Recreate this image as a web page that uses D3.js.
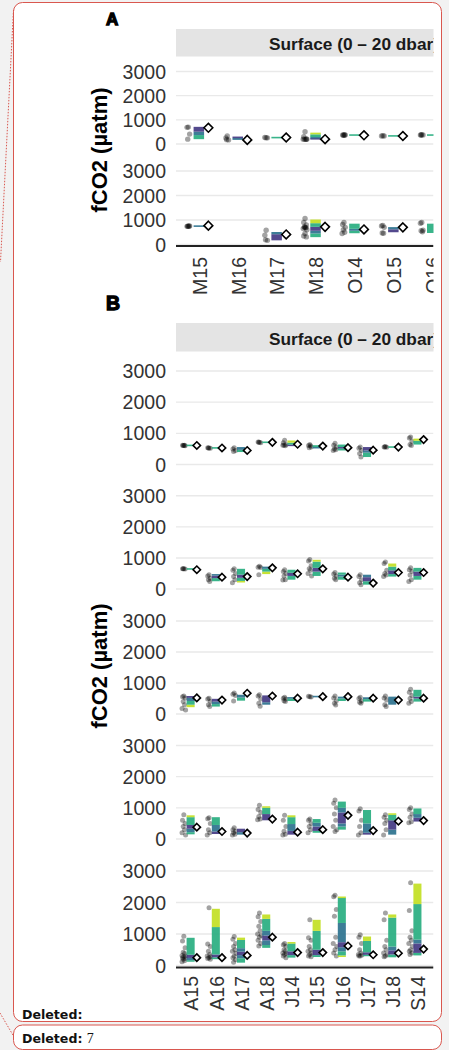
<!DOCTYPE html>
<html><head><meta charset="utf-8">
<script src="https://cdn.jsdelivr.net/npm/d3@7"></script>
<style>
html,body{margin:0;padding:0;background:#f2f2f2;}
svg{display:block;}
</style></head><body>
<svg id="fig" width="449" height="1050"></svg>
<script>
// ---------- data ----------
const stationsA = ["M15","M16","M17","M18","O14","O15","O16"];
const stationsB = ["A15","A16","A17","A18","J14","J15","J16","J17","J18","S14"];
const yTicks = [0, 1000, 2000, 3000];
const stripLabel = "Surface (0 – 20 dbar)";
const yTitle = "fCO2 (µatm)";

// colour codes used by the stacked range bars
const segColours = {p: "#443a83", t: "#2c728e", g: "#28ae80", l: "#c2df23"};

// bars: [boundaries (bottom → top), colour code per segment]
const a1Points = [
  [700, 690, 410, 200], [330, 250, 170, 180], [260, 270, 255],
  [510, 300, 210, 200, 190, 200, 195], [370, 370, 370, 360, 375], [340, 330, 330], [380, 370, 370, 375]
];
const a1Bars = [
  [[200, 370, 510, 710], "gtp"], [[170, 250, 300], "tp"], [[255, 275], "g"],
  [[190, 240, 290, 400, 470], "ptgl"], [[360, 380], "g"], [[325, 345], "g"], [[360, 380], "g"]
];
const a1Diamonds = [670, 170, 270, 200, 360, 330, null];

const a2Points = [
  [750, 740, 760, 750, 745], [], [580, 380, 170, 190],
  [1060, 900, 800, 720, 700, 650, 600, 450, 350, 310, 700, 680],
  [900, 820, 700, 600, 500, 450], [780, 760, 700, 470, 460], [900, 870, 580, 560, 520]
];
const a2Bars = [
  [[740, 760], "t"], null, [[170, 420, 510], "pt"],
  [[300, 450, 560, 720, 870, 1020], "gtpgl"],
  [[460, 560, 640, 850], "gtg"], [[500, 620, 710], "pt"], [[470, 850], "g"]
];
const a2Diamonds = [770, null, 410, 720, 615, 700, null];

const b1Points = [
  [610, 620, 600, 610, 615], [530, 540, 520, 530], [540, 500, 450, 420], [710, 720, 700, 715],
  [780, 700, 640, 620, 600, 620], [640, 610, 560, 540, 600], [680, 620, 560, 500, 470, 450],
  [560, 520, 450, 350, 240], [580, 560, 550, 560], [880, 850, 750, 640, 610]
];
const b1Bars = [
  [[600, 625], "g"], [[520, 545], "g"], [[400, 470, 560], "gt"], [[700, 725], "g"],
  [[590, 640, 700, 770], "pgl"], [[520, 560, 620], "tg"], [[450, 520, 560, 640], "gpg"],
  [[240, 380, 450, 560], "gtp"], [[545, 575], "g"], [[640, 760, 830], "gl"]
];
const b1Diamonds = [610, 530, 450, 710, 650, 590, 540, 460, 560, 800];

const b2Points = [
  [650, 650, 640, 655], [460, 420, 350, 300, 240], [650, 600, 500, 400, 300, 200], [730, 700, 690, 460],
  [620, 560, 500, 420, 300, 290], [950, 900, 750, 650, 600, 500, 420], [530, 480, 420, 350, 300],
  [460, 400, 300, 200, 140], [870, 820, 600, 500, 450, 400], [680, 620, 560, 450, 300, 240]
];
const b2Bars = [
  [[630, 660], "g"], [[250, 350, 430, 480], "gpt"], [[210, 260, 360, 460, 650], "lgpg"],
  [[480, 560, 650, 720], "lgt"], [[300, 420, 520, 620], "gpg"], [[420, 560, 680, 880, 940], "gpgl"],
  [[300, 400, 460, 530], "gtg"], [[140, 250, 380, 460], "gpt"], [[400, 480, 600, 720, 820], "gpgl"],
  [[300, 420, 560, 680], "gpg"]
];
const b2Diamonds = [620, 380, 400, 680, 490, 650, 380, 190, 530, 530];

const b3Points = [
  [580, 560, 520, 400, 300, 180, 130], [510, 480, 400, 300, 240], [680, 640, 600, 420],
  [620, 580, 480, 350, 250], [540, 510, 480, 430, 400], [560, 570, 550], [580, 520, 430, 350, 290],
  [540, 500, 420, 380, 350], [580, 520, 450, 300, 240], [800, 700, 600, 500, 400, 350]
];
const b3Bars = [
  [[220, 300, 420, 520, 580], "lgtp"], [[240, 320, 400, 490], "gtp"], [[430, 530, 620], "gt"],
  [[300, 380, 600], "tp"], [[420, 500, 540], "gt"], [[550, 575], "t"], [[420, 500, 560], "gt"],
  [[400, 480, 540], "gt"], [[300, 560], "t"], [[400, 500, 560, 780], "gpg"]
];
const b3Diamonds = [520, 450, 670, 580, 510, 560, 560, 510, 450, 510];

const b4Points = [
  [780, 600, 500, 400, 300, 200, 130], [680, 650, 500, 300, 200, 130], [360, 300, 250, 200, 150, 130],
  [1080, 950, 850, 720, 640, 620], [760, 600, 400, 250, 150, 130], [640, 600, 500, 400, 300, 200],
  [1250, 1150, 1000, 800, 600, 400, 300, 240], [970, 900, 600, 400, 200, 130],
  [780, 700, 600, 500, 300, 130], [1000, 950, 800, 700, 550, 520]
];
const b4Bars = [
  [[150, 220, 330, 450, 700, 760], "gtpgl"], [[160, 240, 450, 700], "ptg"], [[140, 220, 330], "tp"],
  [[600, 800, 1000, 1050], "pgl"], [[140, 260, 480, 700, 760], "ptgl"], [[200, 260, 400, 520, 640], "gptg"],
  [[300, 400, 500, 850, 1000, 1200], "gtptg"], [[140, 200, 500, 930], "ptg"],
  [[140, 300, 600, 780, 820], "tpgl"], [[560, 680, 800, 980], "ptg"]
];
const b4Diamonds = [380, 240, 190, 640, 220, 300, 760, 270, 570, 590];

const b5Points = [
  [930, 780, 560, 420, 380, 320, 300, 280, 250, 220, 200, 150, 120],
  [1830, 680, 600, 450, 350, 300, 280, 250, 220, 200],
  [920, 830, 700, 600, 500, 450, 380, 300, 250, 180, 100],
  [1670, 1550, 1400, 1250, 1100, 1000, 950, 900, 800, 700, 620],
  [700, 660, 600, 500, 450, 400, 380, 350, 300, 250],
  [1450, 880, 800, 600, 500, 450, 400, 350, 300, 280],
  [2230, 2180, 1780, 1560, 900, 700, 600, 500, 400, 300],
  [980, 900, 700, 500, 400, 350, 330, 300, 300],
  [1670, 1450, 800, 600, 500, 400, 350, 300, 280],
  [2630, 1750, 1100, 900, 800, 700, 600, 500, 450, 400, 350]
];
const b5Bars = [
  [[120, 170, 240, 340, 880], "gtpg"], [[200, 260, 350, 1220, 1800], "gpgl"],
  [[90, 230, 330, 440, 550, 810, 885], "gtptgl"], [[560, 650, 800, 950, 1100, 1480, 1620], "gtptgl"],
  [[250, 330, 450, 700, 740], "gpgl"], [[270, 330, 500, 1100, 1450], "gpgl"],
  [[270, 320, 450, 580, 740, 1350, 2150, 2180], "lgtptgl"], [[300, 340, 420, 780, 920], "gpgl"],
  [[260, 350, 480, 600, 1520, 1620], "gptgl"], [[320, 400, 700, 820, 1950, 2600], "gptgl"]
];
const b5Diamonds = [250, 250, 320, 900, 410, 410, 620, 340, 390, 520];

// ---------- drawing ----------
const svg = d3.select("#fig");
const FONT = "'Liberation Sans', Arial, sans-serif";
const RED = "#d9574f";

// page frames
svg.append("rect").attr("x", 13.5).attr("y", 2.5).attr("width", 428).attr("height", 1019)
  .attr("rx", 9).attr("fill", "#fff").attr("stroke", RED).attr("stroke-width", 1);
svg.append("rect").attr("x", 13.5).attr("y", 1025).attr("width", 428).attr("height", 24.5)
  .attr("rx", 9).attr("fill", "#fff").attr("stroke", RED).attr("stroke-width", 1);
svg.append("line").attr("x1", 13.5).attr("y1", 10).attr("x2", 0.5).attr("y2", 262)
  .attr("stroke", RED).attr("stroke-width", 1).attr("stroke-dasharray", "1.5,1.5");
svg.append("line").attr("x1", 0).attr("y1", 1013).attr("x2", 13.5).attr("y2", 1036)
  .attr("stroke", RED).attr("stroke-width", 1).attr("stroke-dasharray", "1.5,1.5");

const delFont = "'DejaVu Sans', Verdana, sans-serif";
svg.append("text").attr("x", 22).attr("y", 1019).attr("font-family", delFont)
  .attr("font-weight", "bold").attr("font-size", 12.6).attr("fill", "#111").text("Deleted:");
const t2 = svg.append("text").attr("x", 22).attr("y", 1043).attr("font-family", delFont)
  .attr("font-size", 12.6).attr("fill", "#111");
t2.append("tspan").attr("font-weight", "bold").text("Deleted: ");
t2.append("tspan").attr("font-family", "'Liberation Serif', serif").attr("font-size", 14).text("7");

// chart clipped at the right edge of the frame
svg.append("defs").append("clipPath").attr("id", "cut")
  .append("rect").attr("x", 0).attr("y", 0).attr("width", 433.5).attr("height", 1050);
const chart = svg.append("g").attr("clip-path", "url(#cut)");

const panelLeft = 175.5, panelRight = 433.5;

function drawPanel(cfg) {
  const n = cfg.stations.length;
  const x = d3.scalePoint().domain(cfg.stations)
    .range([panelLeft + 0.6 * cfg.step, panelLeft + (n - 0.4) * cfg.step]);
  const g = chart.append("g");

  // panel tag
  g.append("text").attr("x", 106).attr("y", cfg.tagY).attr("font-family", FONT)
    .attr("font-weight", 900).attr("font-size", cfg.tagSize).attr("fill", "#000")
    .attr("stroke", "#000").attr("stroke-width", 1.3).text(cfg.tag);

  // facet strip
  g.append("rect").attr("x", panelLeft + 0.5).attr("y", cfg.strip[0])
    .attr("width", panelRight - panelLeft).attr("height", cfg.strip[1] - cfg.strip[0]).attr("fill", "#e4e4e4");
  g.append("text").attr("x", 269).attr("y", cfg.strip[2]).attr("font-family", FONT)
    .attr("font-weight", "bold").attr("font-size", 17.3).attr("fill", "#1a1a1a").text(stripLabel);

  // y title
  g.append("text").attr("transform", `translate(107,${cfg.titleY}) rotate(-90)`)
    .attr("text-anchor", "middle").attr("font-family", FONT).attr("font-weight", "bold")
    .attr("font-size", 22).attr("fill", "#000").text(yTitle);

  const barW = cfg.barFrac * cfg.step;
  const ptOff = -0.27 * cfg.step, diaOff = 0.245 * cfg.step;
  const jitter = [0, -1.3, 1.3, -0.6, 0.7, -1.8, 1.8];

  cfg.rows.forEach(row => {
    const y = d3.scaleLinear().domain([0, 3000]).range(row.range);
    const rg = g.append("g");

    // grid + tick labels
    rg.selectAll("line.grid").data(yTicks).join("line")
      .attr("x1", panelLeft + 0.5).attr("x2", panelRight)
      .attr("y1", d => y(d)).attr("y2", d => y(d))
      .attr("stroke", "#e9e9e9").attr("stroke-width", 1.4);
    rg.selectAll("text.tick").data(yTicks).join("text")
      .attr("x", 166).attr("y", d => y(d)).attr("dy", "0.36em").attr("text-anchor", "end")
      .attr("font-family", FONT).attr("font-size", 19.5).attr("fill", "#333").text(d => d);

    cfg.stations.forEach((s, i) => {
      const cx = x(s);
      // individual observations
      (row.points[i] || []).forEach((v, k) => {
        rg.append("circle").attr("cx", cx + ptOff + jitter[k % jitter.length]).attr("cy", y(v))
          .attr("r", cfg.r).attr("fill", "#000").attr("fill-opacity", 0.36);
      });
      // stacked range bar
      const bar = row.bars[i];
      if (bar) {
        const [bounds, codes] = bar;
        for (let k = 0; k < codes.length; k++) {
          const y0 = y(bounds[k]), y1 = y(bounds[k + 1]);
          let h = y0 - y1, top = y1;
          if (h < 1.6) { top = (y0 + y1) / 2 - 0.8; h = 1.6; }
          rg.append("rect").attr("x", cx - barW / 2).attr("y", top).attr("width", barW).attr("height", h)
            .attr("fill", segColours[codes[k]]).attr("fill-opacity", 0.92);
        }
      }
      // reference value marker
      const dv = row.diamonds[i];
      if (dv != null) {
        const dx = cx + diaOff, dy = y(dv), r = cfg.dr;
        rg.append("path").attr("d", `M${dx},${dy - r}L${dx + r},${dy}L${dx},${dy + r}L${dx - r},${dy}Z`)
          .attr("fill", "#fff").attr("stroke", "#000").attr("stroke-width", 1.6);
      }
    });
  });

  // x axis line + labels
  g.append("line").attr("x1", panelLeft + 0.5).attr("x2", panelRight)
    .attr("y1", cfg.axisY).attr("y2", cfg.axisY).attr("stroke", "#222").attr("stroke-width", 2);
  g.selectAll("text.xl").data(cfg.stations).join("text")
    .attr("transform", d => `translate(${x(d)},${cfg.labelY}) rotate(-90)`)
    .attr("dy", "0.4em").attr("text-anchor", "end").attr("font-family", FONT)
    .attr("font-size", 19.5).attr("fill", "#333").text(d => d);
}

drawPanel({
  tag: "A", tagY: 25, tagSize: 17, stations: stationsA, step: 38.9, barFrac: 0.27, r: 2.7, dr: 4.4,
  strip: [29, 56.5, 50], titleY: 150, axisY: 246, labelY: 257,
  rows: [
    {points: a1Points, bars: a1Bars, diamonds: a1Diamonds, range: [144, 71.5]},
    {points: a2Points, bars: a2Bars, diamonds: a2Diamonds, range: [244.5, 171]}
  ]
});

drawPanel({
  tag: "B", tagY: 310, tagSize: 19.5, stations: stationsB, step: 25.2, barFrac: 0.32, r: 2.5, dr: 3.7,
  strip: [323, 351.5, 345], titleY: 666, axisY: 967.5, labelY: 976,
  rows: [
    {points: b1Points, bars: b1Bars, diamonds: b1Diamonds, range: [464.5, 371]},
    {points: b2Points, bars: b2Bars, diamonds: b2Diamonds, range: [589, 495.8]},
    {points: b3Points, bars: b3Bars, diamonds: b3Diamonds, range: [714, 621]},
    {points: b4Points, bars: b4Bars, diamonds: b4Diamonds, range: [839, 745.5]},
    {points: b5Points, bars: b5Bars, diamonds: b5Diamonds, range: [965.5, 871]}
  ]
});
</script>
</body></html>
